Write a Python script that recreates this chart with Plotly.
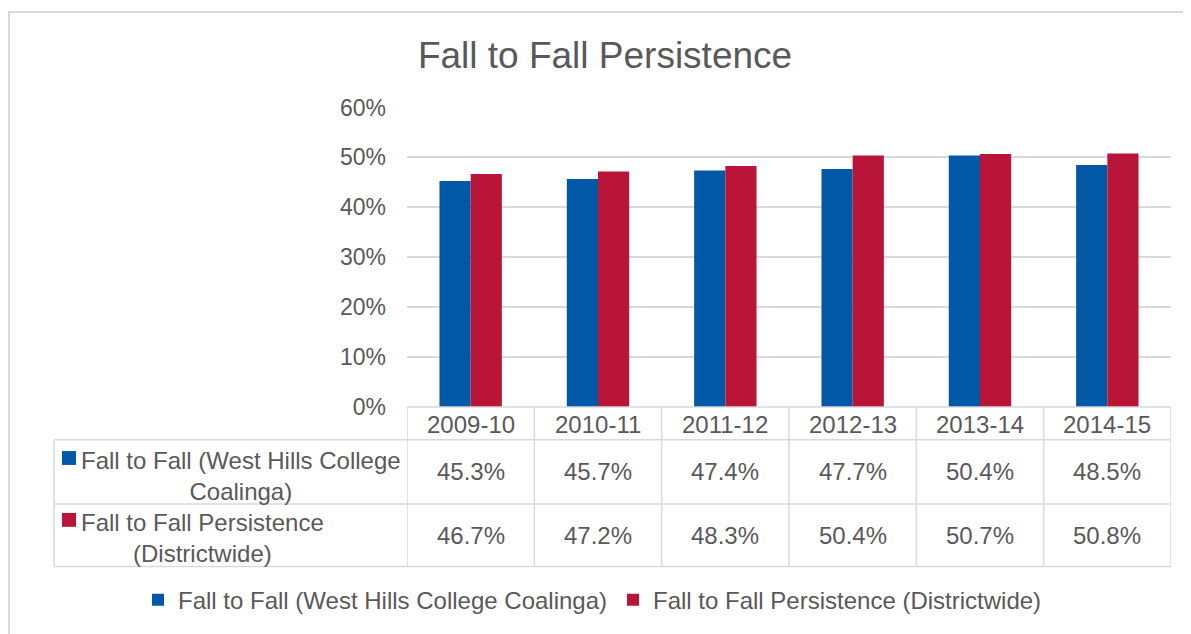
import plotly.graph_objects as go

# chart data
years = ["2009-10", "2010-11", "2011-12", "2012-13", "2013-14", "2014-15"]
coalinga = [45.3, 45.7, 47.4, 47.7, 50.4, 48.5]
districtwide = [46.7, 47.2, 48.3, 50.4, 50.7, 50.8]
series_names = ["Fall to Fall (West Hills College Coalinga)",
                "Fall to Fall Persistence (Districtwide)"]
row_labels = ["Fall to Fall (West Hills College<br>Coalinga)",
              "Fall to Fall Persistence<br>(Districtwide)"]

BLUE = "#0058a7"
RED = "#b81538"
GRID = "#d9d9d9"
TEXT = "#595959"
FONT = "Liberation Sans, Arial, sans-serif"

# the page puts the figure 8px in from the corner
OFF = 8
W, H = 1191 - OFF, 634 - OFF
L, R, T, B = 407, 1171, 107, 410   # plot area, page pixels


def px_x(px):
    return (px - L) / (R - L)


def px_y(py):
    return (B - py) / (B - T)


fig = go.Figure()
fig.add_trace(go.Bar(x=years, y=[v / 100 for v in coalinga], name=series_names[0],
                     marker=dict(color=BLUE, line=dict(width=0))))
fig.add_trace(go.Bar(x=years, y=[v / 100 for v in districtwide], name=series_names[1],
                     marker=dict(color=RED, line=dict(width=0))))

shapes = []
annotations = []

# data table under the plot
row_edges = [410, 443, 508, 571]
n = len(years)
line = dict(color=GRID, width=1.5)
shapes.append(dict(type="line", xref="paper", yref="paper", x0=0, x1=1,
                   y0=px_y(row_edges[0]), y1=px_y(row_edges[0]), line=line))
for ry in row_edges[1:]:
    shapes.append(dict(type="line", xref="paper", yref="paper", x0=px_x(54), x1=1,
                       y0=px_y(ry), y1=px_y(ry), line=line))
shapes.append(dict(type="line", xref="paper", yref="paper", x0=px_x(54), x1=px_x(54),
                   y0=px_y(row_edges[1]), y1=px_y(row_edges[3]), line=line))
for i in range(n + 1):
    shapes.append(dict(type="line", xref="x", yref="paper", x0=i - 0.5, x1=i - 0.5,
                       y0=px_y(row_edges[0]), y1=px_y(row_edges[3]), line=line))

for yr in years:
    annotations.append(dict(x=yr, xref="x", yref="paper", xanchor="center",
                            yanchor="middle",
                            y=px_y((row_edges[0] + row_edges[1]) / 2 + 1), text=yr,
                            showarrow=False, font=dict(size=24, color=TEXT)))
for r, vals in enumerate([coalinga, districtwide]):
    yc = px_y((row_edges[r + 1] + row_edges[r + 2]) / 2)
    for yr, v in zip(years, vals):
        annotations.append(dict(x=yr, xref="x", yref="paper", y=yc, text=f"{v:.1f}%",
                                xanchor="center", yanchor="middle",
                                showarrow=False, font=dict(size=24, color=TEXT)))

# row labels with legend keys
for r, (lab, col) in enumerate(zip(row_labels, [BLUE, RED])):
    yc = px_y((row_edges[r + 1] + row_edges[r + 2]) / 2 + [4, 3][r])
    annotations.append(dict(x=px_x(79), xref="paper", yref="paper", y=yc,
                            xanchor="left", yanchor="middle", align="center",
                            text=lab, showarrow=False, font=dict(size=24, color=TEXT)))
    ky = [461.5, 524][r]
    shapes.append(dict(type="rect", xref="paper", yref="paper",
                       x0=px_x(62), x1=px_x(76), y0=px_y(ky - 7), y1=px_y(ky + 7),
                       fillcolor=col, line=dict(width=0)))

# chart outer border
shapes.append(dict(type="rect", xref="paper", yref="paper",
                   x0=px_x(9), x1=px_x(1220), y0=px_y(11), y1=px_y(680),
                   line=dict(color=GRID, width=2), layer="below"))

fig.update_layout(
    width=W, height=H,
    margin=dict(l=L - OFF, r=W - (R - OFF), t=T - OFF, b=H - (B - OFF)),
    paper_bgcolor="white", plot_bgcolor="white",
    font=dict(family=FONT, color=TEXT),
    title=dict(text="Fall to Fall Persistence", x=(605 - OFF) / W, xanchor="center",
               xref="container", yref="container", y=1 - (55 - OFF) / H,
               yanchor="middle", font=dict(size=37, color=TEXT)),
    barmode="group", bargap=0.51, bargroupgap=0,
    showlegend=True,
    legend=dict(orientation="h", xref="paper", yref="paper",
                x=px_x(138), xanchor="left", y=px_y(605), yanchor="middle",
                entrywidth=430, font=dict(size=24, color=TEXT), itemclick=False,
                bgcolor="rgba(0,0,0,0)"),
    shapes=shapes, annotations=annotations,
)
fig.update_xaxes(type="category", showticklabels=False, showgrid=False, showline=False,
                 zeroline=False, range=[-0.5, n - 0.5], fixedrange=True)
fig.update_yaxes(range=[0, 0.601], dtick=0.1, tickformat=".0%", showgrid=True,
                 gridcolor=GRID, gridwidth=1.5, zeroline=False, showline=False,
                 tickfont=dict(size=23, color=TEXT), ticklabelstandoff=20,
                 fixedrange=True)

fig.write_html("out.html")
